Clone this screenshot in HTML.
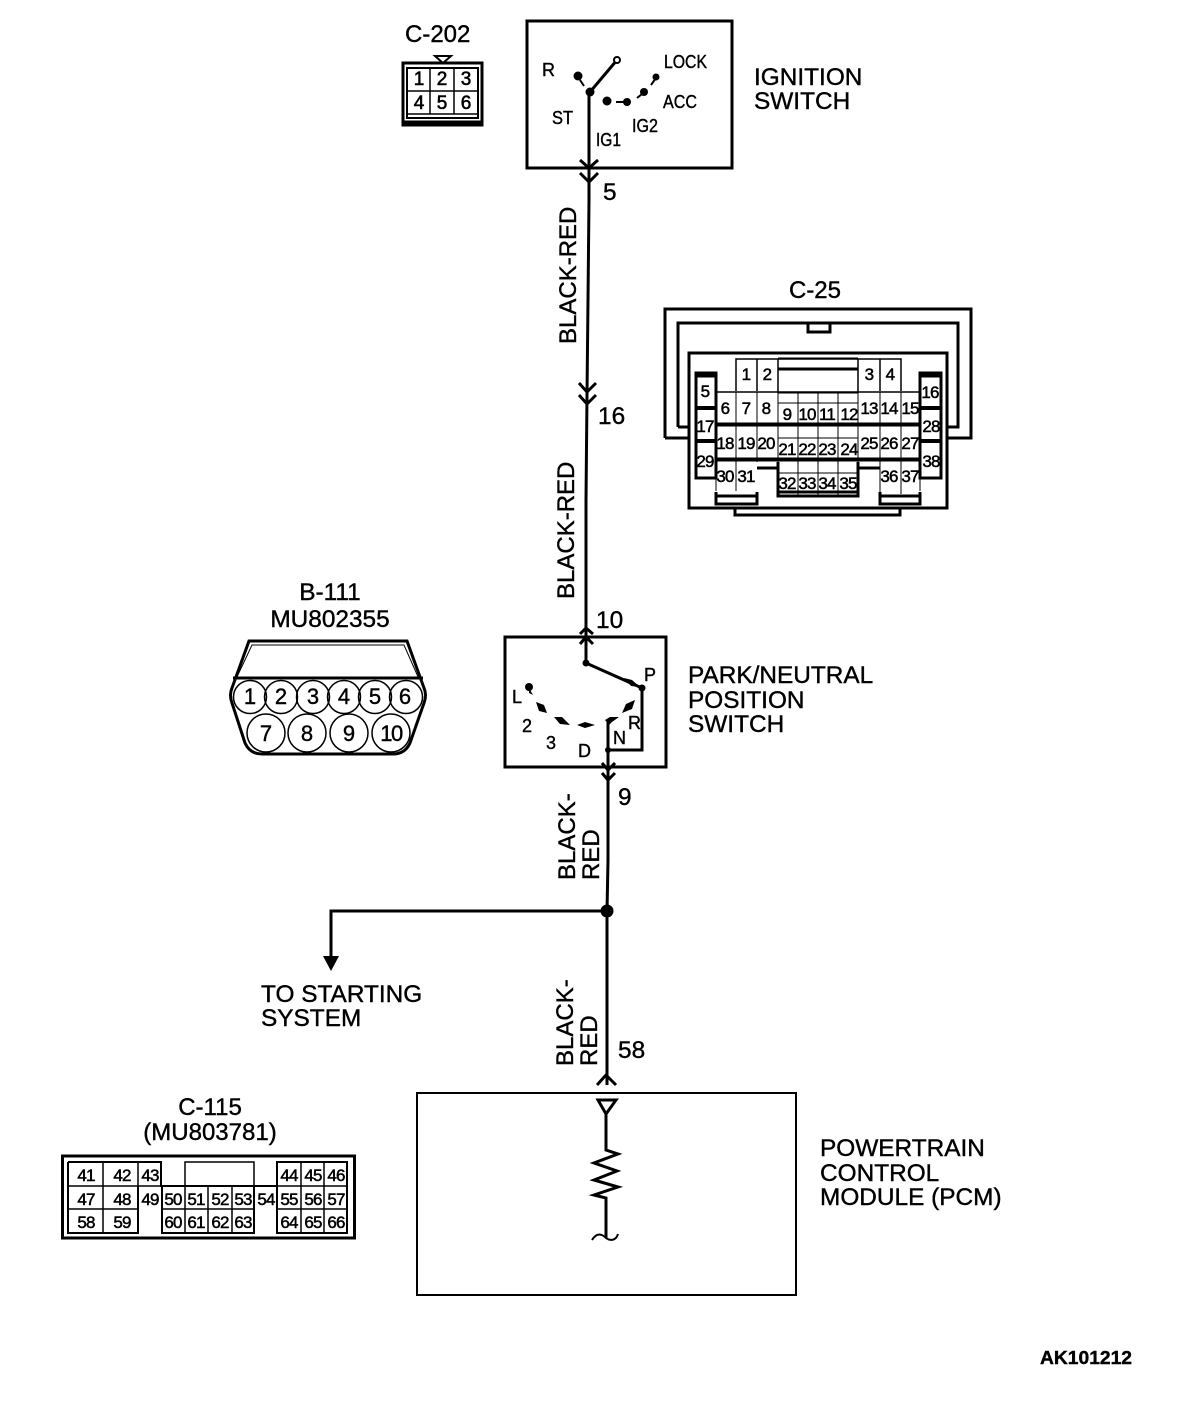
<!DOCTYPE html>
<html>
<head>
<meta charset="utf-8">
<style>
html,body{margin:0;padding:0;background:#fff;width:1184px;height:1402px;overflow:hidden}
svg{display:block}
text{font-family:"Liberation Sans",sans-serif;fill:#000;stroke:#000;stroke-width:.4}
.l{font-size:24.4px}
.v{font-size:24px}
.m{font-size:18px}
.c{font-size:17px;text-anchor:middle;letter-spacing:-.8px;stroke-width:.5}
.d{font-size:17px;text-anchor:middle;letter-spacing:-.8px;stroke-width:.5}
.n{font-size:19px;text-anchor:middle;stroke-width:.6}
.mid{text-anchor:middle}
.s3{fill:none;stroke:#000;stroke-width:3}
.s2{fill:none;stroke:#000;stroke-width:2}
.s1{fill:none;stroke:#000;stroke-width:1.5}
.t{fill:none;stroke:#000;stroke-width:1}
.w{fill:#fff;stroke:#000;stroke-width:2}
.k{fill:#000;stroke:none}
</style>
</head>
<body>
<svg width="1184" height="1402" viewBox="0 0 1184 1402" xmlns="http://www.w3.org/2000/svg">
<rect width="1184" height="1402" fill="#fff"/>

<!-- C-202 -->
<text class="v" x="405" y="42">C-202</text>
<path d="M435 56H451L443 63Z" class="s2"/>
<rect x="403" y="63" width="79" height="62" class="s3"/>
<path d="M407 68H478V118H407Z" class="s2"/>
<path d="M407 91H478M407 114H478M430 68V114M454 68V114" class="s1"/>
<path d="M404 122H481" class="s3"/>
<text class="n" x="419" y="85">1</text><text class="n" x="442" y="85">2</text><text class="n" x="466" y="85">3</text>
<text class="n" x="419" y="109">4</text><text class="n" x="442" y="109">5</text><text class="n" x="466" y="109">6</text>

<!-- Ignition switch -->
<rect x="527" y="21" width="205" height="147" class="s3"/>
<path d="M590 92L617 60" class="s3"/>
<circle cx="617" cy="60" r="3" class="w"/>
<circle cx="590" cy="92" r="4.500" class="k"/>
<circle cx="578" cy="76" r="4.500" class="k"/>
<path d="M580 80L584 86" class="s2"/>
<circle cx="607" cy="101" r="4.500" class="k"/>
<circle cx="627" cy="102" r="4" class="k"/>
<path d="M616 102H627" class="s2"/>
<circle cx="644" cy="92" r="4" class="k"/>
<path d="M637 98L642 94" class="s2"/>
<circle cx="656" cy="77" r="3.500" class="k"/>
<path d="M651 85L656 78" class="s2"/>
<text class="m" x="542" y="76">R</text>
<text class="m" x="664" y="68" textLength="43" lengthAdjust="spacingAndGlyphs">LOCK</text>
<text class="m" x="552" y="124" textLength="21" lengthAdjust="spacingAndGlyphs">ST</text>
<text class="m" x="596" y="146" textLength="25" lengthAdjust="spacingAndGlyphs">IG1</text>
<text class="m" x="632" y="132" textLength="26" lengthAdjust="spacingAndGlyphs">IG2</text>
<text class="m" x="663" y="108" textLength="34" lengthAdjust="spacingAndGlyphs">ACC</text>
<text class="l" x="754" y="85">IGNITION</text>
<text class="l" x="754" y="109">SWITCH</text>

<!-- main wire top -->
<path d="M589 92V200L588 300L587 395L586 500V663" class="s3"/>
<path d="M580 160L589 168L598 160M580 173L589 182L598 173" class="s3"/>
<text class="l" x="603" y="200">5</text>
<text class="v" transform="translate(576 344) rotate(-90)">BLACK-RED</text>
<path d="M579 383L587 392L596 383M579 395L587 404L596 395" class="s3"/>
<text class="l" x="598" y="424">16</text>
<text class="v" transform="translate(574 599) rotate(-90)">BLACK-RED</text>
<text class="l" x="596" y="628">10</text>
<path d="M580 634L586 628L593 634M580 644L586 637L593 644" class="s3"/>

<!-- C-25 -->
<text class="v mid" x="815" y="298">C-25</text>
<path d="M665 438V309H971V438H947M689 438H665" class="s3"/>
<path d="M678 427V323H958V427H947M689 427H678" class="s3"/>
<path d="M808 323V332H830V323" class="s3"/>
<rect x="689" y="353" width="258" height="155" fill="#fff" stroke="#000" stroke-width="3"/>
<path d="M735 508V515H900V508" class="s3"/>
<path d="M736 391V359H901V391" class="s1"/>
<path d="M757 359V391M778 359V393M858 359V393M880 359V391" class="s1"/>
<path d="M778 369H858" class="s3"/>
<path d="M778 358H858M778 393H858" class="t"/>
<path d="M716 392H920" class="s1"/>
<path d="M716 392V491M736 392V491M757 392V462M778 392V497M798 392V497M818 392V497M838 392V497M858 392V497M880 392V494M901 392V494M920 392V491" class="t"/>
<path d="M716 424.500H920" fill="none" stroke="#000" stroke-width="4"/>
<path d="M716 459.500H920" fill="none" stroke="#000" stroke-width="4"/>
<path d="M778 403H858M778 438H858M778 473H858" class="t"/>
<path d="M696 373H716V478H696Z" class="s3"/>
<path d="M920 373H941V478H920Z" class="s3"/>
<path d="M696 376H716M920 376H941" class="s3"/>
<path d="M696 408H716M920 408H941M696 441H716M920 441H941" fill="none" stroke="#000" stroke-width="4"/>
<path d="M716 492V504H757V492M716 496H757" class="s3"/>
<path d="M880 492V504H920V492M880 496H920" class="s3"/>
<path d="M778 462V496H858V462M778 492H858" class="s3"/>
<path d="M757 468H778M858 468H880" class="s3"/>
<text class="c" x="746" y="380">1</text><text class="c" x="767" y="380">2</text><text class="c" x="869" y="380">3</text><text class="c" x="890" y="380">4</text>
<text class="c" x="705" y="397">5</text><text class="c" x="930" y="398">16</text>
<text class="c" x="725" y="414">6</text><text class="c" x="746" y="414">7</text><text class="c" x="766" y="414">8</text>
<text class="c" x="787" y="420">9</text><text class="c" x="807" y="420">10</text><text class="c" x="827" y="420">11</text><text class="c" x="849" y="420">12</text>
<text class="c" x="869" y="414">13</text><text class="c" x="889" y="414">14</text><text class="c" x="910" y="414">15</text>
<text class="c" x="705" y="432">17</text><text class="c" x="931" y="432">28</text>
<text class="c" x="725" y="449">18</text><text class="c" x="746" y="449">19</text><text class="c" x="766" y="449">20</text>
<text class="c" x="787" y="455">21</text><text class="c" x="807" y="455">22</text><text class="c" x="827" y="455">23</text><text class="c" x="849" y="455">24</text>
<text class="c" x="869" y="449">25</text><text class="c" x="889" y="449">26</text><text class="c" x="910" y="449">27</text>
<text class="c" x="705" y="467">29</text><text class="c" x="931" y="467">38</text>
<text class="c" x="725" y="482">30</text><text class="c" x="746" y="482">31</text>
<text class="c" x="787" y="489">32</text><text class="c" x="807" y="489">33</text><text class="c" x="827" y="489">34</text><text class="c" x="848" y="489">35</text>
<text class="c" x="889" y="482">36</text><text class="c" x="910" y="482">37</text>

<!-- B-111 -->
<text class="l mid" x="330" y="600">B-111</text>
<text class="l mid" x="330" y="627">MU802355</text>
<path d="M249 641H407L424 688Q427 695 424 703L410 743Q405 754 393 754H262Q250 754 245 743L232 703Q229 695 232 688Z" fill="#fff" stroke="#000" stroke-width="3"/>
<path d="M252 645H404L419 679H236Z" fill="#fff" stroke="#000" stroke-width="1"/>
<path d="M233 678H423" class="s3"/>
<circle cx="250" cy="697" r="16.500" class="s1"/><circle cx="281" cy="697" r="16.500" class="s1"/><circle cx="313" cy="697" r="16.500" class="s1"/><circle cx="344" cy="697" r="16.500" class="s1"/><circle cx="375" cy="697" r="16.500" class="s1"/><circle cx="406" cy="697" r="16.500" class="s1"/>
<circle cx="266" cy="733" r="19" class="s1"/><circle cx="307" cy="733" r="19" class="s1"/><circle cx="349" cy="733" r="19" class="s1"/><circle cx="391" cy="733" r="19" class="s1"/>
<g class="m">
<text x="250" y="704" font-size="22" text-anchor="middle">1</text><text x="281" y="704" font-size="22" text-anchor="middle">2</text><text x="313" y="704" font-size="22" text-anchor="middle">3</text><text x="344" y="704" font-size="22" text-anchor="middle">4</text><text x="375" y="704" font-size="22" text-anchor="middle">5</text><text x="405" y="704" font-size="22" text-anchor="middle">6</text>
<text x="266" y="741" font-size="22" text-anchor="middle">7</text><text x="307" y="741" font-size="22" text-anchor="middle">8</text><text x="349" y="741" font-size="22" text-anchor="middle">9</text><text x="391" y="741" font-size="22" text-anchor="middle" letter-spacing="-1.500">10</text>
</g>

<!-- Park/Neutral switch -->
<rect x="505" y="637" width="161" height="130" class="s3"/>
<circle cx="586" cy="663" r="3.500" class="k"/>
<path d="M586 663L642 688" class="s3"/>
<path d="M624 678L632 680L640 687L631 686Z" class="k"/>
<path d="M642 688V750H608" class="s3"/>
<circle cx="642" cy="688" r="3.500" class="k"/>
<path d="M608 720V780" class="s3"/>
<circle cx="608" cy="750" r="3" class="k"/>
<path d="M602 763L608 770L615 763M602 773L608 780L615 773" class="s3"/>
<circle cx="529" cy="687" r="4" class="k"/>
<path d="M529 688L533 695L529 693Z" class="k"/>
<path d="M536 702L544 705L547 713L539 711Z" class="k"/>
<path d="M554 717L562 717L570 725L560 724Z" class="k"/>
<path d="M577 725L585 722L595 725L585 728Z" class="k"/>
<path d="M605 720L610 717L619 717L612 722L609 725Z" class="k"/>
<path d="M622 713L626 704L635 700L632 709Z" class="k"/>
<text class="m" x="644" y="681">P</text>
<text class="m" x="512" y="703">L</text>
<text class="m" x="522" y="732">2</text>
<text class="m" x="546" y="749">3</text>
<text class="m" x="578" y="757">D</text>
<text class="m" x="613" y="744">N</text>
<text class="m" x="628" y="729">R</text>
<text class="l" x="688" y="683">PARK/NEUTRAL</text>
<text class="l" x="688" y="708">POSITION</text>
<text class="l" x="688" y="732">SWITCH</text>

<!-- lower wires -->
<path d="M608 780V860L607 912V1085" class="s3"/>
<circle cx="607" cy="911" r="6.500" class="k"/>
<path d="M607 911H331V956" class="s3"/>
<path d="M323 956H339L331 971Z" class="k"/>
<text class="l" x="618" y="805">9</text>
<text class="v" transform="translate(575 880) rotate(-90)">BLACK-</text>
<text class="v" transform="translate(599 880) rotate(-90)">RED</text>
<text class="v" transform="translate(573 1066) rotate(-90)">BLACK-</text>
<text class="v" transform="translate(597 1066) rotate(-90)">RED</text>
<text class="l" x="618" y="1058">58</text>
<text class="l" x="261" y="1002">TO STARTING</text>
<text class="l" x="261" y="1026">SYSTEM</text>
<path d="M597 1085L606 1075L616 1085" class="s3"/>

<!-- PCM -->
<rect x="417" y="1093" width="379" height="202" class="s2"/>
<path d="M598 1100H616L606 1114Z" class="s3"/>
<path d="M606 1114V1150L618 1154L594 1163L617 1171L594 1180L618 1187L594 1195L606 1198V1238" class="s3"/>
<path d="M592 1240C597 1232 602 1234 606 1238C610 1241 616 1241 618 1234" class="s2"/>
<text class="l" x="820" y="1156">POWERTRAIN</text>
<text class="l" x="820" y="1181">CONTROL</text>
<text class="l" x="820" y="1205">MODULE (PCM)</text>

<!-- C-115 -->
<text class="v mid" x="210" y="1115">C-115</text>
<text class="v mid" x="210" y="1140">(MU803781)</text>
<rect x="62.500" y="1156" width="292" height="82" class="s3"/>
<path d="M68 1162H161V1186H277V1162H347V1233H277V1186M68 1162V1233H138V1186M162 1186V1233H254V1186" class="s2"/>
<path d="M185 1186V1162H254V1186" class="s1"/>
<path d="M68 1186H162M68 1209H138M103 1162V1233M138 1162V1186M277 1209H347M301 1162V1233M324 1162V1233M185 1186V1233M208 1186V1233M232 1186V1233M254 1186V1209M162 1209H254M277 1186H347" class="s1"/>
<text class="d" x="86" y="1181">41</text><text class="d" x="122" y="1181">42</text><text class="d" x="150" y="1181">43</text><text class="d" x="289" y="1181">44</text><text class="d" x="313" y="1181">45</text><text class="d" x="336" y="1181">46</text>
<text class="d" x="86" y="1205">47</text><text class="d" x="122" y="1205">48</text><text class="d" x="150" y="1205">49</text><text class="d" x="173" y="1205">50</text><text class="d" x="196" y="1205">51</text><text class="d" x="220" y="1205">52</text><text class="d" x="243" y="1205">53</text><text class="d" x="266" y="1205">54</text><text class="d" x="289" y="1205">55</text><text class="d" x="313" y="1205">56</text><text class="d" x="336" y="1205">57</text>
<text class="d" x="86" y="1228">58</text><text class="d" x="122" y="1228">59</text><text class="d" x="173" y="1228">60</text><text class="d" x="196" y="1228">61</text><text class="d" x="220" y="1228">62</text><text class="d" x="243" y="1228">63</text><text class="d" x="289" y="1228">64</text><text class="d" x="313" y="1228">65</text><text class="d" x="336" y="1228">66</text>

<text x="1040" y="1364" font-size="18" font-weight="bold" textLength="92" lengthAdjust="spacingAndGlyphs">AK101212</text>
</svg>
</body>
</html>
